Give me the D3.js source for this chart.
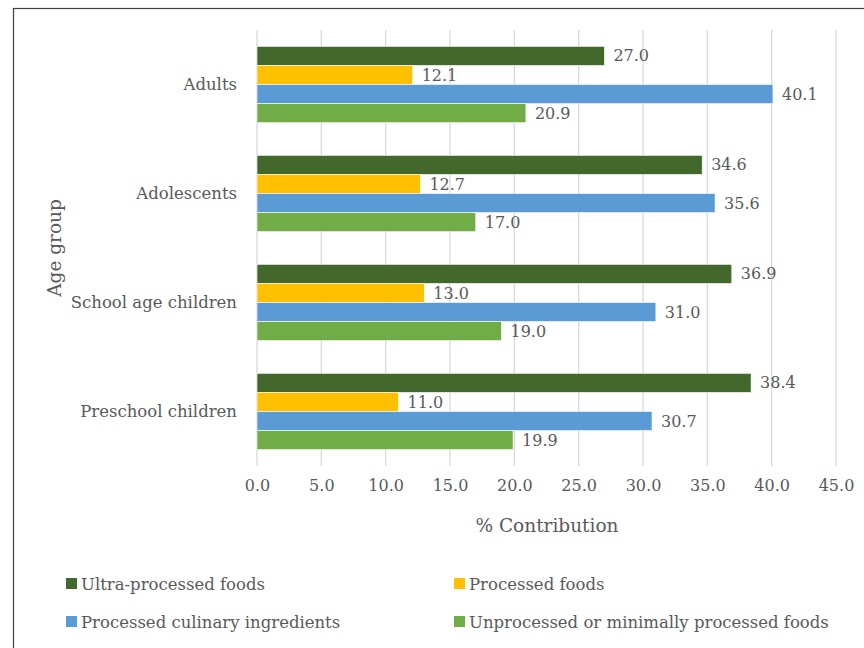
<!DOCTYPE html>
<html>
<head>
<meta charset="utf-8">
<script src="https://cdn.jsdelivr.net/npm/d3@7"></script>
<style>
  body { margin: 0; background: #fff; }
  text { font-family: "DejaVu Serif", serif; fill: #595959; }
</style>
</head>
<body>
<svg id="chart" width="864" height="648"></svg>
<script>
const groups = ['Adults', 'Adolescents', 'School age children', 'Preschool children'];
const seriesNames = ['Ultra-processed foods', 'Processed foods', 'Processed culinary ingredients', 'Unprocessed or minimally processed foods'];
const colors = ['#43682B', '#FFC000', '#5B9BD5', '#70AD47'];
const ultra = [27.0, 34.6, 36.9, 38.4];
const processed = [12.1, 12.7, 13.0, 11.0];
const culinary = [40.1, 35.6, 31.0, 30.7];
const unprocessed = [20.9, 17.0, 19.0, 19.9];
const ticks = [0, 5, 10, 15, 20, 25, 30, 35, 40, 45];

const series = [ultra, processed, culinary, unprocessed];
const rows = [];
groups.forEach((g, gi) => {
    series.forEach((s, si) => rows.push({ group: g, key: seriesNames[si], value: s[gi], color: colors[si] }));
});

const FONT = "DejaVu Serif, serif";
const svg = d3.select("#chart");

// outer frame (right / bottom edges are off the picture)
svg.append("rect")
    .attr("x", 13.5).attr("y", 8.5)
    .attr("width", 900).attr("height", 700)
    .attr("fill", "none").attr("stroke", "#404040").attr("stroke-width", 1.2);

const plotL = 257, plotR = 836, plotT = 30, plotB = 466;

const x = d3.scaleLinear().domain([0, 45]).range([plotL, plotR]);
const y0 = d3.scaleBand().domain(groups).range([plotT, plotB]).paddingInner(0.3).paddingOuter(0.15);
const y1 = d3.scaleBand().domain(seriesNames).range([0, y0.bandwidth()]);

// gridlines
svg.append("g")
    .selectAll("line")
    .data(ticks)
    .enter().append("line")
    .attr("x1", d => x(d)).attr("x2", d => x(d))
    .attr("y1", plotT).attr("y2", plotB)
    .attr("stroke", "#d9d9d9").attr("stroke-width", 1.3);

// bars
svg.append("g")
    .selectAll("rect")
    .data(rows)
    .enter().append("rect")
    .attr("x", x(0))
    .attr("y", d => y0(d.group) + y1(d.key))
    .attr("width", d => x(d.value) - x(0))
    .attr("height", y1.bandwidth())
    .attr("fill", d => d.color)
    .attr("stroke", "#ffffff").attr("stroke-width", 0.6);

// value labels
svg.append("g")
    .selectAll("text")
    .data(rows)
    .enter().append("text")
    .attr("x", d => x(d.value) + 9)
    .attr("y", d => y0(d.group) + y1(d.key) + y1.bandwidth() / 2)
    .attr("dy", "0.35em")
    .attr("font-size", 16)
    .text(d => d.value.toFixed(1));

// x axis labels
const xAxis = d3.axisBottom(x).tickValues(ticks).tickFormat(d3.format(".1f")).tickSize(0).tickPadding(14);
const xg = svg.append("g")
    .attr("transform", `translate(0, ${plotB})`)
    .call(xAxis);
xg.select(".domain").remove();
xg.selectAll("text").attr("font-size", 16).attr("fill", "#595959").style("font-family", FONT);

// y axis labels
const yAxis = d3.axisLeft(y0).tickSize(0).tickPadding(20);
const yg = svg.append("g")
    .attr("transform", `translate(${plotL}, 0)`)
    .call(yAxis);
yg.select(".domain").remove();
yg.selectAll("text").attr("font-size", 16.5).attr("fill", "#595959").style("font-family", FONT);

// axis titles
svg.append("text")
    .attr("x", 547)
    .attr("y", 532)
    .attr("text-anchor", "middle")
    .attr("font-size", 18.5)
    .text("% Contribution");

svg.append("text")
    .attr("transform", "translate(61, 248) rotate(-90)")
    .attr("text-anchor", "middle")
    .attr("font-size", 18.5)
    .text("Age group");

// legend
const legend = svg.append("g")
    .selectAll("g")
    .data(seriesNames)
    .enter().append("g")
    .attr("transform", (d, i) => `translate(${i % 2 === 0 ? 66 : 454}, ${i < 2 ? 584 : 622})`);

legend.append("rect")
    .attr("x", 0).attr("y", -6)
    .attr("width", 11).attr("height", 11)
    .attr("fill", (d, i) => colors[i]);

legend.append("text")
    .attr("x", 15)
    .attr("dy", "0.35em")
    .attr("font-size", 16.5)
    .text(d => d);
</script>
</body>
</html>
